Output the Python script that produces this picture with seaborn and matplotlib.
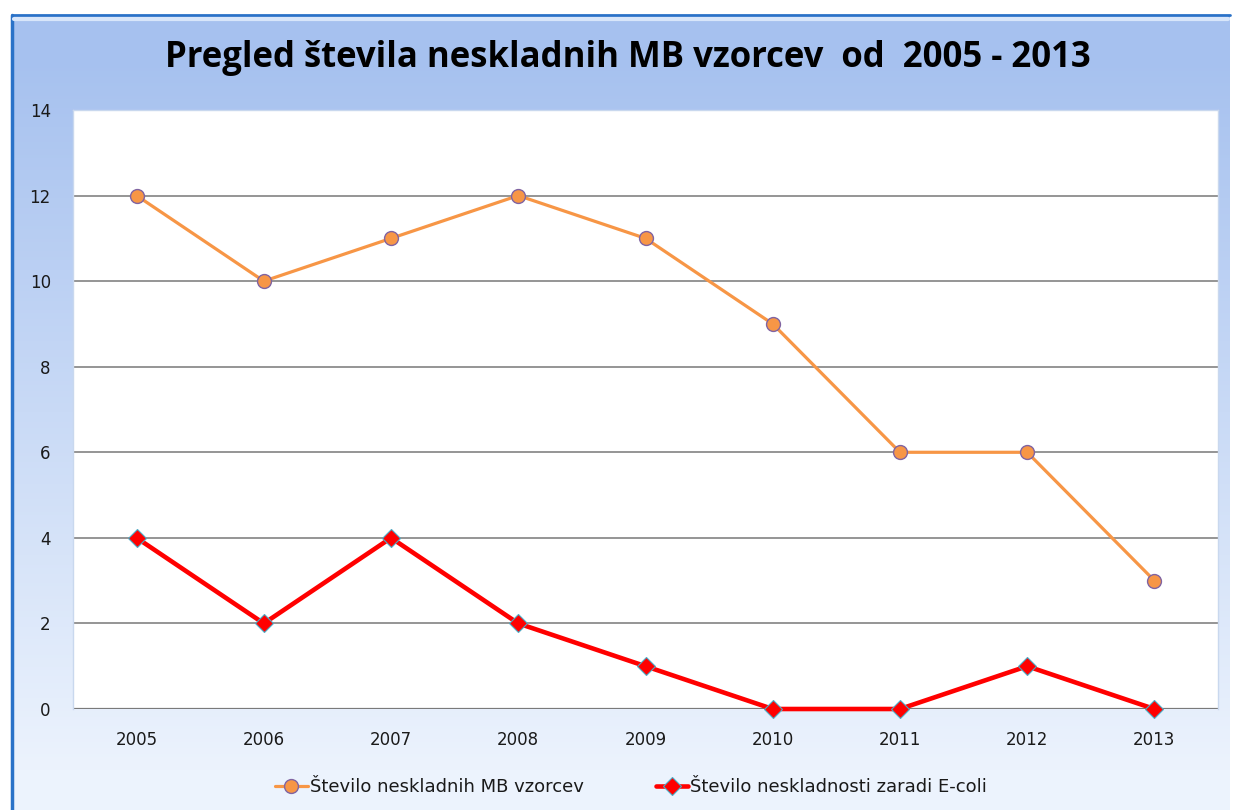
import numpy as np
import pandas as pd
import matplotlib
matplotlib.use("Agg")
import matplotlib.pyplot as plt
import seaborn as sns

years = ["2005", "2006", "2007", "2008", "2009", "2010", "2011", "2012", "2013"]
mb_samples = [12, 10, 11, 12, 11, 9, 6, 6, 3]
ecoli = [4, 2, 4, 2, 1, 0, 0, 1, 0]
label_mb = "Število neskladnih MB vzorcev"
label_ec = "Število neskladnosti zaradi E-coli"
title = "Pregled števila neskladnih MB vzorcev  od  2005 - 2013"

sns.set_theme(style="white")
plt.rcParams['font.family'] = ['DejaVu Sans']

W, H = 1236, 810
fig = plt.figure(figsize=(W / 100, H / 100), dpi=100)
fig.patch.set_facecolor("white")

# background chart frame with gradient
bg = fig.add_axes([0, 0, 1, 1], zorder=0)
bg.axis("off")
grad = np.linspace(0, 1, 256).reshape(-1, 1)
top = np.array([0xa6, 0xc1, 0xef]) / 255
bot = np.array([0xec, 0xf3, 0xfd]) / 255
t = np.clip((grad - 0.05) / 0.9, 0, 1)
img = (top * (1 - t) + bot * t).reshape(256, 1, 3)
bg.imshow(img, extent=[12, 1230, 810, 15], aspect="auto", zorder=0)
bg.plot([12, 12], [15, 810], color="#2a72c8", lw=2.5, zorder=2)
bg.plot([12, 1230], [15, 15], color="#2a72c8", lw=2.0, zorder=2)
bg.plot([14, 1228], [19, 19], color="#d8e6fa", lw=3, zorder=2)
bg.set_xlim(0, W)
bg.set_ylim(H, 0)

ax = fig.add_axes([73 / W, 1 - 709 / H, (1218 - 73) / W, (709 - 110) / H], zorder=1)
ax.set_facecolor("white")

df = pd.DataFrame({"year": years, "mb": mb_samples, "ec": ecoli})
sns.lineplot(data=df, x="year", y="mb", ax=ax, color="#f79646", lw=2.3,
             marker="o", markersize=10, markerfacecolor="#f79646",
             markeredgecolor="#8064a2", markeredgewidth=1.0, label=label_mb,
             zorder=4)
sns.lineplot(data=df, x="year", y="ec", ax=ax, color="#ff0000", lw=3.3,
             marker="D", markersize=9, markerfacecolor="#ff0000",
             markeredgecolor="#4bacc6", markeredgewidth=0.8, label=label_ec,
             zorder=5)
for ln in ax.lines:
    ln.set_clip_on(False)

ax.set_xlim(-0.5, 8.5)
ax.set_ylim(0, 14)
ax.set_yticks(range(0, 15, 2))
for yv in range(2, 14, 2):
    ax.axhline(yv, color="#8c8c8c", lw=1.3, zorder=1)
ax.axhline(0, color="#7a7a7a", lw=1.6, zorder=1)
for s in ["top", "right", "left"]:
    ax.spines[s].set_visible(True)
    ax.spines[s].set_color("#c9d8ee")
    ax.spines[s].set_linewidth(1.0)
ax.spines["bottom"].set_visible(False)
ax.set_xlabel("")
ax.set_ylabel("")
ax.tick_params(axis="y", length=0, pad=16, labelsize=12, colors="#1a1a1a")
ax.tick_params(axis="x", length=0, pad=16, labelsize=12, colors="#1a1a1a")

ax.legend_.remove()
h, l = ax.get_legend_handles_labels()
fig.legend(h, l, loc="center", bbox_to_anchor=(631 / W, 1 - 787 / H), ncol=2,
           frameon=False, fontsize=13, handlelength=1.8, columnspacing=4.0,
           handletextpad=0.1, labelcolor="#1a1a1a")

fig.text(628 / W, 1 - 58 / H, title, ha="center", va="center",
         fontsize=25, fontweight="bold", color="#000000",
         family=["Open Sans", "DejaVu Sans"])

fig.savefig("out.png", dpi=100)
